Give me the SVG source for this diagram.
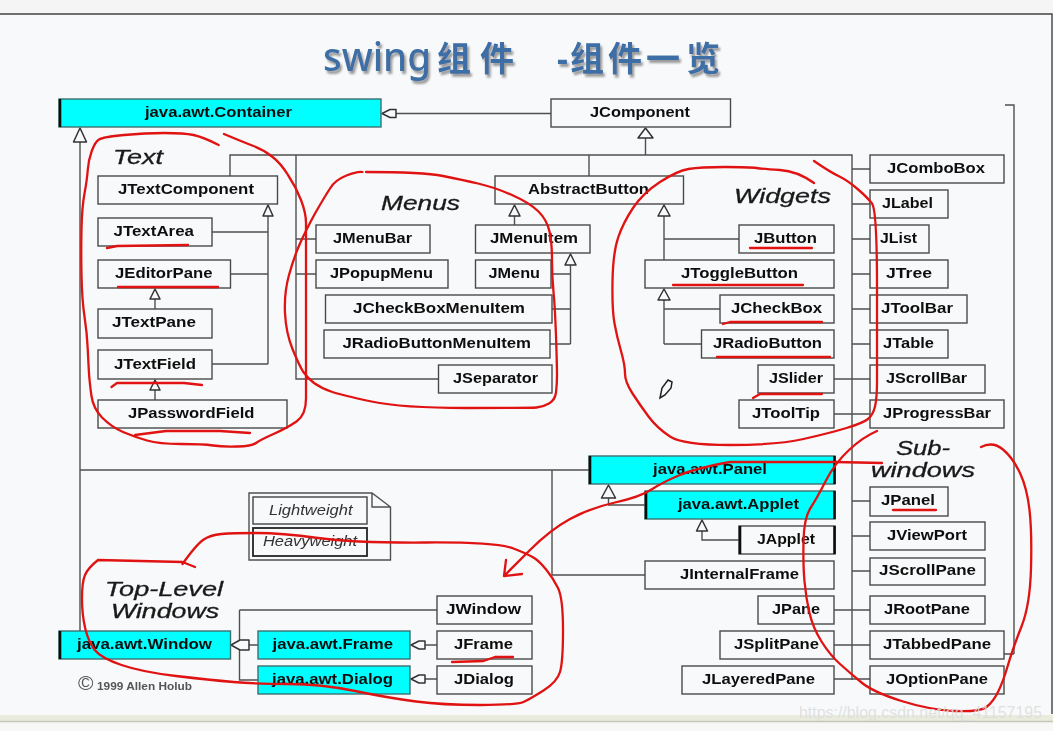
<svg xmlns="http://www.w3.org/2000/svg" width="1053" height="731" viewBox="0 0 1053 731">
<style>
.b{fill:#f8f9fa;stroke:#4a4a4a;stroke-width:1.4}
.c{fill:#00ffff;stroke:#3f6f70;stroke-width:1.4}
.e{stroke:#111;stroke-width:2.6;fill:none}
text{font-family:"Liberation Sans",Arial,sans-serif}
.t{font-size:15px;font-weight:700;fill:#111}
.i{font-size:19.500px;font-style:italic;fill:#1a1a1a;stroke:#1a1a1a;stroke-width:0.3}
.n{font-size:15px;font-style:italic;fill:#333}
.l{stroke:#505050;stroke-width:1.4;fill:none}
.a{fill:#f8f9fa;stroke:#333;stroke-width:1.5;stroke-linejoin:round}
.r{fill:none;stroke:#e01212;stroke-width:2.3;stroke-linejoin:round;stroke-linecap:round}
.title{font-family:"Noto Sans","Noto Sans CJK SC",sans-serif;font-weight:700;fill:#3c6ea6}
</style>
<defs>
<filter id="soft" x="-2%" y="-2%" width="104%" height="104%"><feGaussianBlur stdDeviation="0.55"/></filter>
<filter id="shadow" x="-5%" y="-20%" width="110%" height="140%"><feDropShadow dx="2" dy="3" stdDeviation="1.2" flood-color="#9a9a9a"/></filter>
</defs>

<rect id="page" width="1053" height="731" fill="#f8f9fa"/>
<rect id="top-strip" width="1053" height="14" fill="#f5f5f5"/>
<rect id="bottom-strip" y="715" width="1053" height="6" fill="#e9ecdd"/>
<rect id="bottom-base" y="721" width="1053" height="10" fill="#f7f7f5"/>
<path id="frame" d="M0 14H1052V714" fill="none" stroke="#444" stroke-width="1.4"/>
<path d="M0 721.500H1053" fill="none" stroke="#c4c6b8" stroke-width="1.4"/>

<text id="title" class="title" filter="url(#shadow)" y="71" font-size="39"><tspan x="323" font-weight="500" textLength="108" lengthAdjust="spacingAndGlyphs">swing</tspan><tspan x="437" font-size="34">组</tspan><tspan x="480" font-size="34">件</tspan><tspan x="557" font-size="34">-</tspan><tspan x="570" font-size="34">组</tspan><tspan x="608" font-size="34">件</tspan><tspan x="646" font-size="34">一</tspan><tspan x="686" font-size="34">览</tspan></text>

<g filter="url(#soft)">
<g id="connectors">
<path class="l" d="M80 140V631M80 470H589M395 113.500H551M230 176V155H852V680M296 155V379H438M589 155V176M645.500 137V155"/>
<path class="l" d="M852 169H870M852 204H870M852 239H870M852 274H870M852 309H870M852 344H870M834 379H870M834 414H870M852 501H870M852 536H870M852 571H870M834 610H870M834 645H870M834 679H870"/>
<path class="l" d="M1005 105H1014V654M1004 654H1014"/>
<path class="l" d="M268 216V364M212 232H268M230 274H268M212 364H268M155 299V309M155 390V400"/>
<path class="l" d="M296 239H316M296 274H316M514.500 216V225M570.500 265V344M551 274H570.500M552 309H570.500M550 344H570.500"/>
<path class="l" d="M664 216V260M664 239H739M664 300V344M664 309H720M664 344H702"/>
<path class="l" d="M552 470V575H645M608.500 497V505H645M702 531V540H739"/>
<path class="l" d="M249 645H258M239.500 610H437M239.500 610V680H258M425 645H437M425 679H437"/>
<polygon class="a" points="80,128 86.500,142 73.500,142"/>
<polygon class="a" points="382,113.500 390,109.500 396,109.500 396,117.500 390,117.500"/>
<polygon class="a" points="645.500,128 653,138 638,138"/>
<polygon class="a" points="268,205 273,216 263,216"/>
<polygon class="a" points="155,289 160,299 150,299"/>
<polygon class="a" points="155,380 160,390 150,390"/>
<polygon class="a" points="514.500,205 520,216 509,216"/>
<polygon class="a" points="570.500,254 576,265 565,265"/>
<polygon class="a" points="664,205 670,216 658,216"/>
<polygon class="a" points="664,289 670,300 658,300"/>
<polygon class="a" points="608.500,485 615.500,498 601.500,498"/>
<polygon class="a" points="702,520 707.500,531 696.500,531"/>
<polygon class="a" points="231,645 240,640 249,640 249,650 240,650"/>
<polygon class="a" points="411,645 419,641 425,641 425,649 419,649"/>
<polygon class="a" points="411,679 419,675 425,675 425,683 419,683"/>
</g>

<g id="n-container"><rect class="c" x="59" y="99" width="322" height="28"/><path class="e" d="M60 99V127"/><text class="t" x="145" y="117" textLength="147" lengthAdjust="spacingAndGlyphs">java.awt.Container</text></g>
<g id="n-jcomponent"><rect class="b" x="551" y="99" width="179.500" height="28"/><text class="t" x="590" y="117" textLength="100" lengthAdjust="spacingAndGlyphs">JComponent</text></g>
<g id="n-jtextcomponent"><rect class="b" x="98" y="176" width="179.500" height="28"/><text class="t" x="118" y="194" textLength="136" lengthAdjust="spacingAndGlyphs">JTextComponent</text></g>
<g id="n-jtextarea"><rect class="b" x="98" y="218" width="114" height="28"/><text class="t" x="113.500" y="236" textLength="80.500" lengthAdjust="spacingAndGlyphs">JTextArea</text></g>
<g id="n-jeditorpane"><rect class="b" x="98" y="260" width="132.500" height="28"/><text class="t" x="115" y="278" textLength="97.500" lengthAdjust="spacingAndGlyphs">JEditorPane</text></g>
<g id="n-jtextpane"><rect class="b" x="98" y="309" width="114" height="29"/><text class="t" x="112" y="327" textLength="84" lengthAdjust="spacingAndGlyphs">JTextPane</text></g>
<g id="n-jtextfield"><rect class="b" x="98" y="350" width="114" height="29"/><text class="t" x="114" y="369" textLength="82" lengthAdjust="spacingAndGlyphs">JTextField</text></g>
<g id="n-jpasswordfield"><rect class="b" x="98" y="400" width="189" height="28"/><text class="t" x="128" y="418" textLength="126.500" lengthAdjust="spacingAndGlyphs">JPasswordField</text></g>

<g id="n-jmenubar"><rect class="b" x="316" y="225" width="114" height="28"/><text class="t" x="333" y="243" textLength="79" lengthAdjust="spacingAndGlyphs">JMenuBar</text></g>
<g id="n-jpopupmenu"><rect class="b" x="316" y="260" width="132" height="28"/><text class="t" x="330" y="278" textLength="103" lengthAdjust="spacingAndGlyphs">JPopupMenu</text></g>
<g id="n-jcheckboxmenuitem"><rect class="b" x="325.500" y="295" width="226.500" height="28"/><text class="t" x="353" y="313" textLength="172" lengthAdjust="spacingAndGlyphs">JCheckBoxMenuItem</text></g>
<g id="n-jradiobuttonmenuitem"><rect class="b" x="324" y="330" width="226" height="28"/><text class="t" x="342.500" y="348" textLength="188.500" lengthAdjust="spacingAndGlyphs">JRadioButtonMenuItem</text></g>
<g id="n-jseparator"><rect class="b" x="438.500" y="365" width="113.500" height="28"/><text class="t" x="453" y="383" textLength="85" lengthAdjust="spacingAndGlyphs">JSeparator</text></g>
<g id="n-jmenuitem"><rect class="b" x="475.500" y="225" width="114.500" height="28"/><text class="t" x="490" y="243" textLength="88" lengthAdjust="spacingAndGlyphs">JMenuItem</text></g>
<g id="n-jmenu"><rect class="b" x="475.500" y="260" width="75.500" height="28"/><text class="t" x="488.500" y="278" textLength="51.500" lengthAdjust="spacingAndGlyphs">JMenu</text></g>

<g id="n-abstractbutton"><rect class="b" x="495" y="176" width="188.500" height="28"/><text class="t" x="528" y="194" textLength="121" lengthAdjust="spacingAndGlyphs">AbstractButton</text></g>
<g id="n-jbutton"><rect class="b" x="739" y="225" width="95" height="28"/><text class="t" x="754" y="243" textLength="63" lengthAdjust="spacingAndGlyphs">JButton</text></g>
<g id="n-jtogglebutton"><rect class="b" x="645" y="260" width="189" height="28"/><text class="t" x="681" y="278" textLength="117" lengthAdjust="spacingAndGlyphs">JToggleButton</text></g>
<g id="n-jcheckbox"><rect class="b" x="720" y="295" width="114" height="28"/><text class="t" x="731" y="313" textLength="91" lengthAdjust="spacingAndGlyphs">JCheckBox</text></g>
<g id="n-jradiobutton"><rect class="b" x="701.500" y="330" width="132.500" height="28"/><text class="t" x="713" y="348" textLength="109" lengthAdjust="spacingAndGlyphs">JRadioButton</text></g>
<g id="n-jslider"><rect class="b" x="758" y="365" width="76" height="28"/><text class="t" x="769" y="383" textLength="54" lengthAdjust="spacingAndGlyphs">JSlider</text></g>
<g id="n-jtooltip"><rect class="b" x="739" y="400" width="95" height="28"/><text class="t" x="752" y="418" textLength="68" lengthAdjust="spacingAndGlyphs">JToolTip</text></g>

<g id="n-jcombobox"><rect class="b" x="870" y="155" width="134" height="28"/><text class="t" x="887" y="173" textLength="98" lengthAdjust="spacingAndGlyphs">JComboBox</text></g>
<g id="n-jlabel"><rect class="b" x="870" y="190" width="78" height="28"/><text class="t" x="882" y="208" textLength="51" lengthAdjust="spacingAndGlyphs">JLabel</text></g>
<g id="n-jlist"><rect class="b" x="870" y="225" width="59" height="28"/><text class="t" x="880" y="243" textLength="37" lengthAdjust="spacingAndGlyphs">JList</text></g>
<g id="n-jtree"><rect class="b" x="870" y="260" width="78" height="28"/><text class="t" x="886" y="278" textLength="46" lengthAdjust="spacingAndGlyphs">JTree</text></g>
<g id="n-jtoolbar"><rect class="b" x="870" y="295" width="97" height="28"/><text class="t" x="881" y="313" textLength="72" lengthAdjust="spacingAndGlyphs">JToolBar</text></g>
<g id="n-jtable"><rect class="b" x="870" y="330" width="78" height="28"/><text class="t" x="883" y="348" textLength="51" lengthAdjust="spacingAndGlyphs">JTable</text></g>
<g id="n-jscrollbar"><rect class="b" x="870" y="365" width="115" height="28"/><text class="t" x="886" y="383" textLength="81" lengthAdjust="spacingAndGlyphs">JScrollBar</text></g>
<g id="n-jprogressbar"><rect class="b" x="870" y="400" width="134" height="28"/><text class="t" x="883" y="418" textLength="108" lengthAdjust="spacingAndGlyphs">JProgressBar</text></g>
<g id="n-jpanel"><rect class="b" x="870" y="487" width="78" height="29"/><text class="t" x="881" y="505" textLength="54" lengthAdjust="spacingAndGlyphs">JPanel</text></g>
<g id="n-jviewport"><rect class="b" x="870" y="522" width="115" height="28"/><text class="t" x="887" y="540" textLength="80" lengthAdjust="spacingAndGlyphs">JViewPort</text></g>
<g id="n-jscrollpane"><rect class="b" x="870" y="558" width="115" height="27"/><text class="t" x="879" y="575" textLength="97" lengthAdjust="spacingAndGlyphs">JScrollPane</text></g>
<g id="n-jrootpane"><rect class="b" x="870" y="596" width="115" height="28"/><text class="t" x="884" y="614" textLength="86" lengthAdjust="spacingAndGlyphs">JRootPane</text></g>
<g id="n-jtabbedpane"><rect class="b" x="870" y="631" width="134" height="28"/><text class="t" x="883" y="649" textLength="108" lengthAdjust="spacingAndGlyphs">JTabbedPane</text></g>
<g id="n-joptionpane"><rect class="b" x="870" y="666" width="134" height="28"/><text class="t" x="886" y="684" textLength="102" lengthAdjust="spacingAndGlyphs">JOptionPane</text></g>

<g id="n-panel"><rect class="c" x="589" y="456" width="246" height="28"/><path class="e" d="M590 456V484M834.500 456V484"/><text class="t" x="653" y="474" textLength="114" lengthAdjust="spacingAndGlyphs">java.awt.Panel</text></g>
<g id="n-applet"><rect class="c" x="645" y="491" width="190" height="28"/><path class="e" d="M646 491V519M834.500 491V519"/><text class="t" x="678" y="509" textLength="121" lengthAdjust="spacingAndGlyphs">java.awt.Applet</text></g>
<g id="n-japplet"><rect class="b" x="739" y="526" width="96" height="28"/><path class="e" d="M740 526V554M834.500 526V554"/><text class="t" x="757" y="544" textLength="58" lengthAdjust="spacingAndGlyphs">JApplet</text></g>
<g id="n-jinternalframe"><rect class="b" x="645" y="561" width="189" height="28"/><text class="t" x="680" y="579" textLength="119" lengthAdjust="spacingAndGlyphs">JInternalFrame</text></g>
<g id="n-jpane"><rect class="b" x="758" y="596" width="76" height="28"/><text class="t" x="772" y="614" textLength="48" lengthAdjust="spacingAndGlyphs">JPane</text></g>
<g id="n-jsplitpane"><rect class="b" x="720" y="631" width="114" height="28"/><text class="t" x="734" y="649" textLength="85" lengthAdjust="spacingAndGlyphs">JSplitPane</text></g>
<g id="n-jlayeredpane"><rect class="b" x="682" y="666" width="152" height="28"/><text class="t" x="702" y="684" textLength="113" lengthAdjust="spacingAndGlyphs">JLayeredPane</text></g>

<g id="n-window"><rect class="c" x="59" y="631" width="171.500" height="28"/><path class="e" d="M60 631V659"/><text class="t" x="77" y="649" textLength="135" lengthAdjust="spacingAndGlyphs">java.awt.Window</text></g>
<g id="n-frame"><rect class="c" x="258" y="631" width="152" height="28"/><text class="t" x="272.500" y="649" textLength="120.500" lengthAdjust="spacingAndGlyphs">java.awt.Frame</text></g>
<g id="n-dialog"><rect class="c" x="258" y="666" width="152" height="28"/><text class="t" x="272" y="684" textLength="121" lengthAdjust="spacingAndGlyphs">java.awt.Dialog</text></g>
<g id="n-jwindow"><rect class="b" x="437" y="596" width="95" height="28"/><text class="t" x="446" y="614" textLength="75" lengthAdjust="spacingAndGlyphs">JWindow</text></g>
<g id="n-jframe"><rect class="b" x="437" y="631" width="95" height="28"/><text class="t" x="454" y="649" textLength="59" lengthAdjust="spacingAndGlyphs">JFrame</text></g>
<g id="n-jdialog"><rect class="b" x="437" y="666" width="95" height="28"/><text class="t" x="454" y="684" textLength="60" lengthAdjust="spacingAndGlyphs">JDialog</text></g>

<g id="legend">
<path class="l" d="M249 493H372L390.500 507V560H249ZM372 493V507H390.500"/>
<rect x="253" y="497" width="114" height="27" fill="none" stroke="#444" stroke-width="1.4"/>
<rect x="253" y="528" width="114" height="28" fill="none" stroke="#222" stroke-width="1.8"/>
<text class="n" x="269" y="515" textLength="83.500" lengthAdjust="spacingAndGlyphs">Lightweight</text>
<text class="n" x="263" y="546" textLength="94" lengthAdjust="spacingAndGlyphs">Heavyweight</text>
</g>

<g id="group-labels">
<text class="i" x="113" y="164" textLength="50" lengthAdjust="spacingAndGlyphs">Text</text>
<text class="i" x="381" y="210" textLength="79" lengthAdjust="spacingAndGlyphs">Menus</text>
<text class="i" x="734" y="203" textLength="97" lengthAdjust="spacingAndGlyphs">Widgets</text>
<text class="i" x="896" y="455" textLength="54" lengthAdjust="spacingAndGlyphs">Sub-</text>
<text class="i" x="871" y="477" textLength="104" lengthAdjust="spacingAndGlyphs">windows</text>
<text class="i" x="105" y="596" textLength="118" lengthAdjust="spacingAndGlyphs">Top-Level</text>
<text class="i" x="111" y="618" textLength="108" lengthAdjust="spacingAndGlyphs">Windows</text>
</g>

<text id="copyright" y="690" fill="#555" font-size="10.500" font-weight="700"><tspan x="78" font-size="21" font-weight="400">©</tspan><tspan x="97" textLength="95" lengthAdjust="spacingAndGlyphs">1999 Allen Holub</tspan></text>
</g>

<polygon id="pencil" points="660,398 662,388 668,380 672,382 671,388 665,395" fill="#f8f9fa" stroke="#222" stroke-width="1.500"/>

<g id="annotations">
<path class="r" d="M218.700 145Q203 137 193.500 135Q184 133 164.500 133Q145 133 124 135Q103 137 99 139.500Q95 142 91.750 151Q88.500 160 87.750 170Q87 180 84.500 193.500Q82 207 81.500 228.500Q81 250 81.500 275Q82 300 84.500 316.500Q87 333 87.750 349Q88.500 365 89 373.500Q89.600 382 91.300 395Q93 408 102 417.500Q111.500 427 123 432Q135 437 147 440.500Q159 444 181 444Q203 444 213 445.500Q223 447 237.500 446.500Q252 446 256 443Q260 440 273.500 434Q287 428 296.500 421.500Q306 415 306 398.500Q306 382 306 307.500Q306 233 306 223Q306 213 301 200Q296 187 288 175Q280.600 163 272 156.500Q264 150 253.500 146Q243 142 224 134"/>
<path class="r" d="M362.400 172Q358 171 346.500 175.500Q335 180 330 188.500Q324.500 197 315 213.500Q306 230 300 243.500Q294 257 289 275Q284 293 285 313Q286 333 292.500 349Q299 365 303 371.500Q307.600 378 314 383Q321 388 331 391.500Q341 395 371.500 401.500Q402 408 466 408Q530 408 536.500 407.500Q543 407 549 403.500Q555 400 556 392.500Q557 385 557 375Q557 365 556 336Q555 307 553.500 292Q552 277 552 260Q552 243 549.500 231.500Q547 220 538.500 211.500Q530 203 512 195Q493.600 187 478 183.500Q463 180 443 176Q422.600 172 366 172"/>
<path class="r" d="M814 183Q797 171 780 170Q763 169 756.500 168Q750 167 725 167Q700 167 688.500 169Q677 171 660 182Q643 193 633 208Q623 223 618 238Q613 253 612.500 281.500Q612 310 614.500 323.500Q617 337 621 351Q625 365 625 373.500Q625 382 632.500 393.500Q640 405 648.500 416.500Q657 428 670 436.500Q683 445 730 445Q777 445 803.500 439Q830 433 846.500 428Q863 423 868 419Q873 415 875 406.500Q877 398 877 381.500Q877 365 877 287.500Q877 210 872 203.500Q867 197 857 188.500Q847 180 838.500 176Q830 172 814 161"/>
<path class="r" d="M877 431Q863 437 849 450Q835 463 826 480.500Q817 498 810.500 508Q804 518 803.500 541.500Q803 565 804.500 581.500Q806 598 809.500 613Q813 628 821.500 641.500Q830 655 840 664Q850 673 861.500 682.500Q873 692 901.500 701Q930 710 955 711Q980 712 986.500 707Q993 702 998 692Q1003 682 1008 665Q1013 648 1021.500 626.500Q1030 605 1031 568.500Q1032 532 1029.500 510Q1027 488 1020 473Q1013 458 1003 449.500Q993 441 981 447"/>
<path class="r" d="M882 463L835 462L730 462Q697 468 680 475Q663 482 651.500 489.500Q640 497 615 502.500Q590 508 570 519Q550 530 530 550L504 576M506 560L504 576L522 574"/>
<path class="r" d="M195 567L182.500 562L98 560Q88 568 85 575Q82 582 82 598.500Q82 615 85.250 628.500Q88.500 642 94.750 650Q101 658 121.500 665Q142 672 176 676Q210 680 233.500 682Q257 684 289 684Q321 684 355 691Q389 698 416 701.500Q443 705 480 705Q517 705 523.500 702Q530 699 543.500 690.500Q557 682 560 672Q563 662 563 630Q563 598 558 588Q553 578 546.500 570Q540 562 535 558.500Q530 555 513.500 548.500Q497 542 426 542.500Q355 543 318 538Q281 533 257 533Q233 533 221.500 534Q210 535 203 540Q196 545 182.500 564"/>
<path class="r" d="M107 248L117 246L188 245"/>
<path class="r" d="M118 287L218 287"/>
<path class="r" d="M111.500 387L117 383L184 383L202 385"/>
<path class="r" d="M135 435L166 431L220 431L250 433"/>
<path class="r" d="M750 248L812 248"/>
<path class="r" d="M673 285L803 285"/>
<path class="r" d="M723 324L730 322L822 322"/>
<path class="r" d="M717 357L830 357"/>
<path class="r" d="M753 398L760 394L822 394"/>
<path class="r" d="M893 510L936 510"/>
<path class="r" d="M452 662L483.500 661L495 657L513 657"/>
</g>

<text id="watermark" x="799" y="718" font-size="17" fill="#dcdcdc" fill-opacity="0.85" textLength="243" lengthAdjust="spacingAndGlyphs">https://blog.csdn.net/qq_41157195</text>
</svg>
